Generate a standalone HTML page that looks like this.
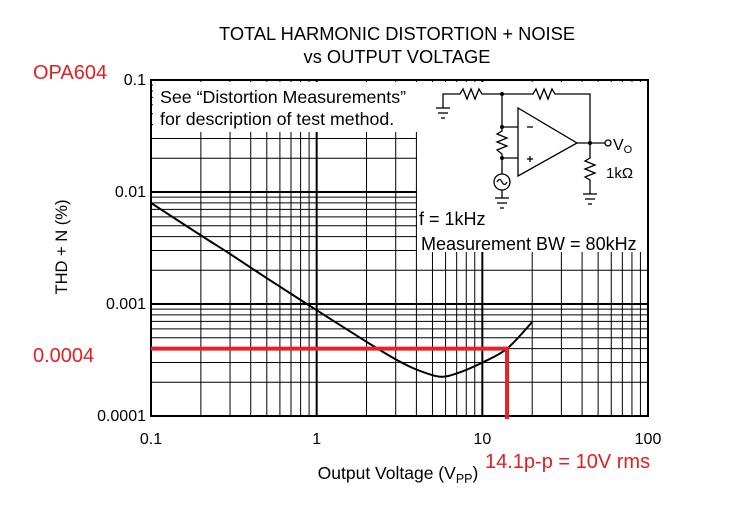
<!DOCTYPE html>
<html><head><meta charset="utf-8"><style>
body{margin:0;background:#fff;}
svg text{font-family:"Liberation Sans",sans-serif;}
</style></head><body>
<svg id="c" width="737" height="503" xmlns="http://www.w3.org/2000/svg">
<g id="grid"></g>
<rect x="417" y="82" width="230" height="170" fill="#fff"/>
<rect x="153" y="82" width="264" height="50" fill="#fff"/>
<g id="curve"></g>
<g id="frame"></g>
<text x="397" y="40" font-size="18.3" text-anchor="middle">TOTAL HARMONIC DISTORTION + NOISE</text>
<text x="397" y="63" font-size="18.3" text-anchor="middle">vs OUTPUT VOLTAGE</text>
<text x="160" y="103" font-size="17.8">See “Distortion Measurements”</text>
<text x="160" y="125" font-size="17.8">for description of test method.</text>
<text x="419" y="225" font-size="18">f = 1kHz</text>
<text x="421" y="250" font-size="18">Measurement BW = 80kHz</text>
<g stroke="#000" stroke-width="1.3" fill="none">
<polyline points="443,108 443,94 460,94 463,89 467,99 471,89 475,99 479,89 482,94 533,94 536,89 540,99 544,89 548,99 552,89 555,94 590,94 590,143"/>
<line x1="436" y1="108" x2="450" y2="108"/><line x1="438" y1="113" x2="448" y2="113"/><line x1="441" y1="118" x2="445" y2="118"/>
<polyline points="502,94 502,127 518,127"/>
<polyline points="502,127 502,131 497,134 507,138 497,142 507,146 497,150 502,154 502,158 518,158"/>
<polygon points="518,108 518,176 577,143"/>
<line x1="527" y1="127" x2="533" y2="127"/><line x1="527" y1="159" x2="533" y2="159"/><line x1="530" y1="156" x2="530" y2="162"/>
<line x1="502" y1="158" x2="502" y2="174"/><circle cx="502" cy="182" r="8"/>
<path d="M497,182 q2.5,-5 5,0 q2.5,5 5,0"/>
<line x1="502" y1="190" x2="502" y2="198"/><line x1="495" y1="198" x2="509" y2="198"/><line x1="497" y1="203" x2="507" y2="203"/><line x1="500" y1="208" x2="504" y2="208"/>
<line x1="577" y1="143" x2="605" y2="143"/><circle cx="608" cy="143" r="3"/>
<polyline points="590,143 590,158 585,161 595,165 585,169 595,173 585,177 590,180 590,194"/>
<line x1="583" y1="194" x2="597" y2="194"/><line x1="585" y1="199" x2="595" y2="199"/><line x1="588" y1="204" x2="592" y2="204"/>
</g>
<circle cx="502" cy="94" r="2" fill="#000"/><circle cx="502" cy="127" r="2" fill="#000"/><circle cx="502" cy="158" r="2" fill="#000"/><circle cx="590" cy="143" r="2" fill="#000"/>
<text x="613" y="150" font-size="16">V<tspan font-size="11" dy="3">O</tspan></text>
<text x="606" y="178" font-size="15">1kΩ</text>
<g id="ticks"></g>
<text transform="translate(67,247) rotate(-90)" font-size="16.5" text-anchor="middle">THD + N (%)</text>
<text x="398" y="479" font-size="17.5" text-anchor="middle">Output Voltage (V<tspan font-size="12.5" dy="4">PP</tspan><tspan dy="-4">)</tspan></text>
<g id="anno"></g>
<text x="33" y="79" font-size="20" fill="#e02020">OPA604</text>
<text x="33" y="362" font-size="20" fill="#e02020">0.0004</text>
<text x="485" y="468" font-size="20" fill="#e02020">14.1p-p = 10V rms</text>
</svg>
<script>
const xTicks=[0.1,1,10,100];
const xTickLabels=["0.1","1","10","100"];
const yTicks=[0.0001,0.001,0.01,0.1];
const yTickLabels=["0.0001","0.001","0.01","0.1"];
const curveX=[0.1,0.2,0.3,0.5,1,2,3,4,5.5,7,10,14.1,20];
const curveY=[0.008,0.0041,0.0028,0.0017,0.00088,0.00046,0.00032,0.00026,0.000225,0.00024,0.0003,0.0004,0.00069];
const markX=[14.1];
const markY=[0.0004];
const X0=151,X1=648,Y0=416,Y1=80;
const xs=v=>X0+(Math.log10(v)+1)/3*(X1-X0);
const ys=v=>Y0-(Math.log10(v)+4)/3*(Y0-Y1);
const NS="http://www.w3.org/2000/svg";
function mk(p,t,a){const e=document.createElementNS(NS,t);for(const k in a)e.setAttribute(k,a[k]);document.getElementById(p).appendChild(e);return e;}
for(let d=0;d<3;d++)for(let m=2;m<=9;m++){
 const vx=Math.pow(10,d-1)*m;
 const l=mk('grid','line',{x1:xs(vx),x2:xs(vx),y1:Y1,y2:Y0,stroke:'#000','stroke-width':1});
 
 
 const vy=Math.pow(10,d-4)*m;
 const h=mk('grid','line',{x1:X0,x2:X1,y1:ys(vy),y2:ys(vy),stroke:'#000','stroke-width':1});
 
 
}
xTicks.forEach((v,i)=>{
 const l=mk('grid','line',{x1:xs(v),x2:xs(v),y1:Y1,y2:Y0,stroke:'#000','stroke-width':2});
 
 
 const t=mk('ticks','text',{x:xs(v),y:444,'font-size':16,'text-anchor':'middle'});
 t.textContent=xTickLabels[i];
 
 
});
yTicks.forEach((v,i)=>{
 const l=mk('grid','line',{x1:X0,x2:X1,y1:ys(v),y2:ys(v),stroke:'#000','stroke-width':2});
 
 
 const t=mk('ticks','text',{x:146,y:ys(v)+5,'font-size':16,'text-anchor':'end'});
 t.textContent=yTickLabels[i];
 
 
});
const fr=mk('frame','rect',{x:X0,y:Y1,width:X1-X0,height:Y0-Y1,fill:'none',stroke:'#000','stroke-width':2});


const P=curveX.map((v,i)=>[xs(v),ys(curveY[i])]);
let d='M'+P[0][0].toFixed(1)+','+P[0][1].toFixed(1);
for(let i=0;i<P.length-1;i++){
 const p0=P[Math.max(i-1,0)],p1=P[i],p2=P[i+1],p3=P[Math.min(i+2,P.length-1)];
 const c1=[p1[0]+(p2[0]-p0[0])/6,p1[1]+(p2[1]-p0[1])/6],c2=[p2[0]-(p3[0]-p1[0])/6,p2[1]-(p3[1]-p1[1])/6];
 d+=` C${c1[0].toFixed(1)},${c1[1].toFixed(1)} ${c2[0].toFixed(1)},${c2[1].toFixed(1)} ${p2[0].toFixed(1)},${p2[1].toFixed(1)}`;
}
const c=mk('curve','path',{d:d,fill:'none',stroke:'#000','stroke-width':2,'stroke-linejoin':'round'});


const mx=xs(markX[0]),my=ys(markY[0]);
const r=mk('anno','polyline',{points:`${X0},${my} ${mx},${my} ${mx},419`,fill:'none',stroke:'#e8202a','stroke-width':4});


</script>
</body></html>
